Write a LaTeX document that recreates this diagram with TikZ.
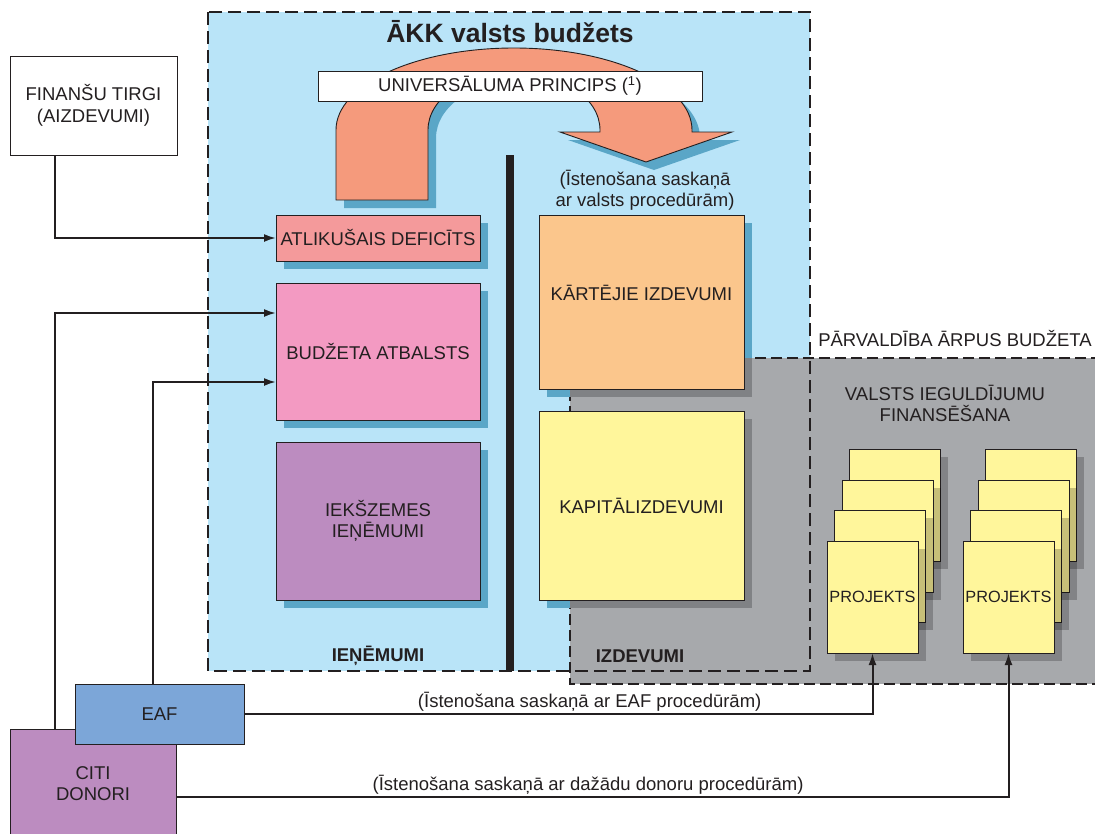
\documentclass[tikz,border=0pt]{standalone}
\usepackage{fontspec}
\setmainfont{Liberation Sans}
\usetikzlibrary{arrows.meta}
\definecolor{bgblue}{HTML}{B9E4F8}
\definecolor{sb}{HTML}{5AA6C7}
\definecolor{gr}{HTML}{A7A9AC}
\definecolor{sg}{HTML}{808285}
\definecolor{ink}{HTML}{231F20}
\definecolor{orng}{HTML}{F59A7C}
\definecolor{atlc}{HTML}{F49A9B}
\definecolor{budc}{HTML}{F39AC2}
\definecolor{iekc}{HTML}{BC8CC0}
\definecolor{karc}{HTML}{FBC68C}
\definecolor{yel}{HTML}{FFF69B}
\definecolor{eafc}{HTML}{7CA6D8}
\definecolor{citic}{HTML}{BC8CC0}

\newcommand\shadowrect[4]{%
  \fill[sb] ({#1+8},{#2+8}) rectangle ({#3+8},{#4+8});
  \begin{scope}
    \clip (570,358) rectangle (1095,684);
    \fill[sg] ({#1+8},{#2+8}) rectangle ({#3+8},{#4+8});
  \end{scope}}

\newcommand\boxnode[7]{%
  \pgfmathsetmacro\myBW{#4-#2}\pgfmathsetmacro\myBH{#5-#3}%
  \node[box, fill=#6, minimum width=\myBW pt, minimum height=\myBH pt, anchor=north west] (#1) at (#2,#3) {#7};}

\newcommand\projnode[4]{%
  \fill[black, opacity=0.22] ({#2+8},{#3+8}) rectangle ({#2+99},{#3+120});
  \node[box, fill=yel, minimum width=91pt, minimum height=112pt, anchor=north west, font=\fontsize{16.3}{19}\selectfont] (#1) at (#2,#3) {#4};}

\newcommand\drawbigarrow[1]{%
  \path[#1] (336,200) -- (336,130)
    arc[start angle=180,end angle=0,x radius=178pt,y radius=82pt]
    -- (692,132) -- (732,132) -- (646,162) -- (560,132) -- (600,132) -- (600,130)
    arc[start angle=0,end angle=180,x radius=86pt,y radius=58pt]
    -- (428,200) -- cycle;}

\begin{document}
\begin{tikzpicture}[x=1pt,y=-1pt,
  box/.style={draw=ink, line width=1pt, inner sep=0pt, outer sep=0pt, text=ink,
    font=\fontsize{18.5}{21.5}\selectfont, align=center},
  lbl/.style={text=ink, font=\fontsize{18.5}{21}\selectfont, align=center, inner sep=2pt},
  bold/.style={text=ink, font=\bfseries\fontsize{18.5}{21}\selectfont},
  arr/.style={draw=ink, line width=2pt, -{Latex[length=12pt,width=8pt]}},
  dashb/.style={draw=ink, line width=2.4pt, dash pattern=on 13pt off 6pt},
  dashg/.style={draw=ink, line width=2.4pt, dash pattern=on 11pt off 5pt}]
\useasboundingbox (0,0) rectangle (1095,833);

% regions
\fill[bgblue] (208,12) rectangle (810,671);
\fill[gr] (570,358) rectangle (1110,684);
\draw[dashb] (208,12) rectangle (810,671);
\draw[dashg] (570,358) rectangle (1110,684);

% divider bar
\fill[ink] (506,155) rectangle (514,671);

% big arrow
\drawbigarrow{fill=sb, shift={(8,8)}}
\drawbigarrow{fill=orng, draw=ink, line width=0.9pt}

\node[box, fill=white, minimum width=384pt, minimum height=30pt, anchor=north west] (princ) at (318,71) {UNIVERSĀLUMA PRINCIPS (\textsuperscript{1})};

\node[text=ink, font=\bfseries\fontsize{26.5}{30}\selectfont] (title) at (510,32) {ĀKK valsts budžets};

\node[lbl] (valsts) at (645,190) {(Īstenošana saskaņā\\ar valsts procedūrām)};

% revenue boxes
\shadowrect{276}{215}{480}{261}
\boxnode{atl}{276}{215}{480}{261}{atlc}{ATLIKUŠAIS DEFICĪTS}
\shadowrect{276}{283}{480}{420}
\boxnode{budz}{276}{283}{480}{420}{budc}{BUDŽETA ATBALSTS}
\shadowrect{276}{442}{480}{600}
\boxnode{iek}{276}{442}{480}{600}{iekc}{IEKŠZEMES\\IEŅĒMUMI}

% expenditure boxes
\shadowrect{539}{215}{744}{389}
\boxnode{kar}{539}{215}{744}{389}{karc}{\raisebox{9pt}[\height][\depth]{KĀRTĒJIE IZDEVUMI}}
\shadowrect{539}{411}{744}{600}
\boxnode{kap}{539}{411}{744}{600}{yel}{KAPITĀLIZDEVUMI}

\node[bold] (ien) at (378,656) {IEŅĒMUMI};
\node[bold] (izd) at (640,656) {IZDEVUMI};

\node[lbl] (parv) at (955,338) {PĀRVALDĪBA ĀRPUS BUDŽETA};
\node[lbl] (vif) at (945,403) {VALSTS IEGULDĪJUMU\\FINANSĒŠANA};

% project stacks
\projnode{p1d}{849}{449}{}
\projnode{p1c}{842}{480}{}
\projnode{p1b}{834}{510}{}
\projnode{p1}{827}{541}{PROJEKTS}
\projnode{p2d}{985}{449}{}
\projnode{p2c}{978}{480}{}
\projnode{p2b}{970}{510}{}
\projnode{p2}{963}{541}{PROJEKTS}

% outside sources
\boxnode{fin}{10}{56}{177}{155}{white}{FINANŠU TIRGI\\(AIZDEVUMI)}
\boxnode{citi}{10}{729}{176}{838}{citic}{CITI\\DONORI}
\boxnode{eaf}{75}{684}{244}{744}{eafc}{EAF}

% connectors
\draw[arr] ([xshift=45pt]fin.south west) |- (atl.west);
\draw[arr] ([xshift=45pt]citi.north west) |- ([yshift=38.5pt]budz.west);
\draw[arr] ([xshift=78pt]eaf.north west) |- ([yshift=-30.5pt]budz.west);
\draw[arr] (eaf.east) -| node[lbl, pos=0.275, above] {(Īstenošana saskaņā ar EAF procedūrām)} (p1.south);
\draw[arr] ([yshift=-13.5pt]citi.east) -| node[lbl, pos=0.2475, above] {(Īstenošana saskaņā ar dažādu donoru procedūrām)} (p2.south);
\end{tikzpicture}
\end{document}
